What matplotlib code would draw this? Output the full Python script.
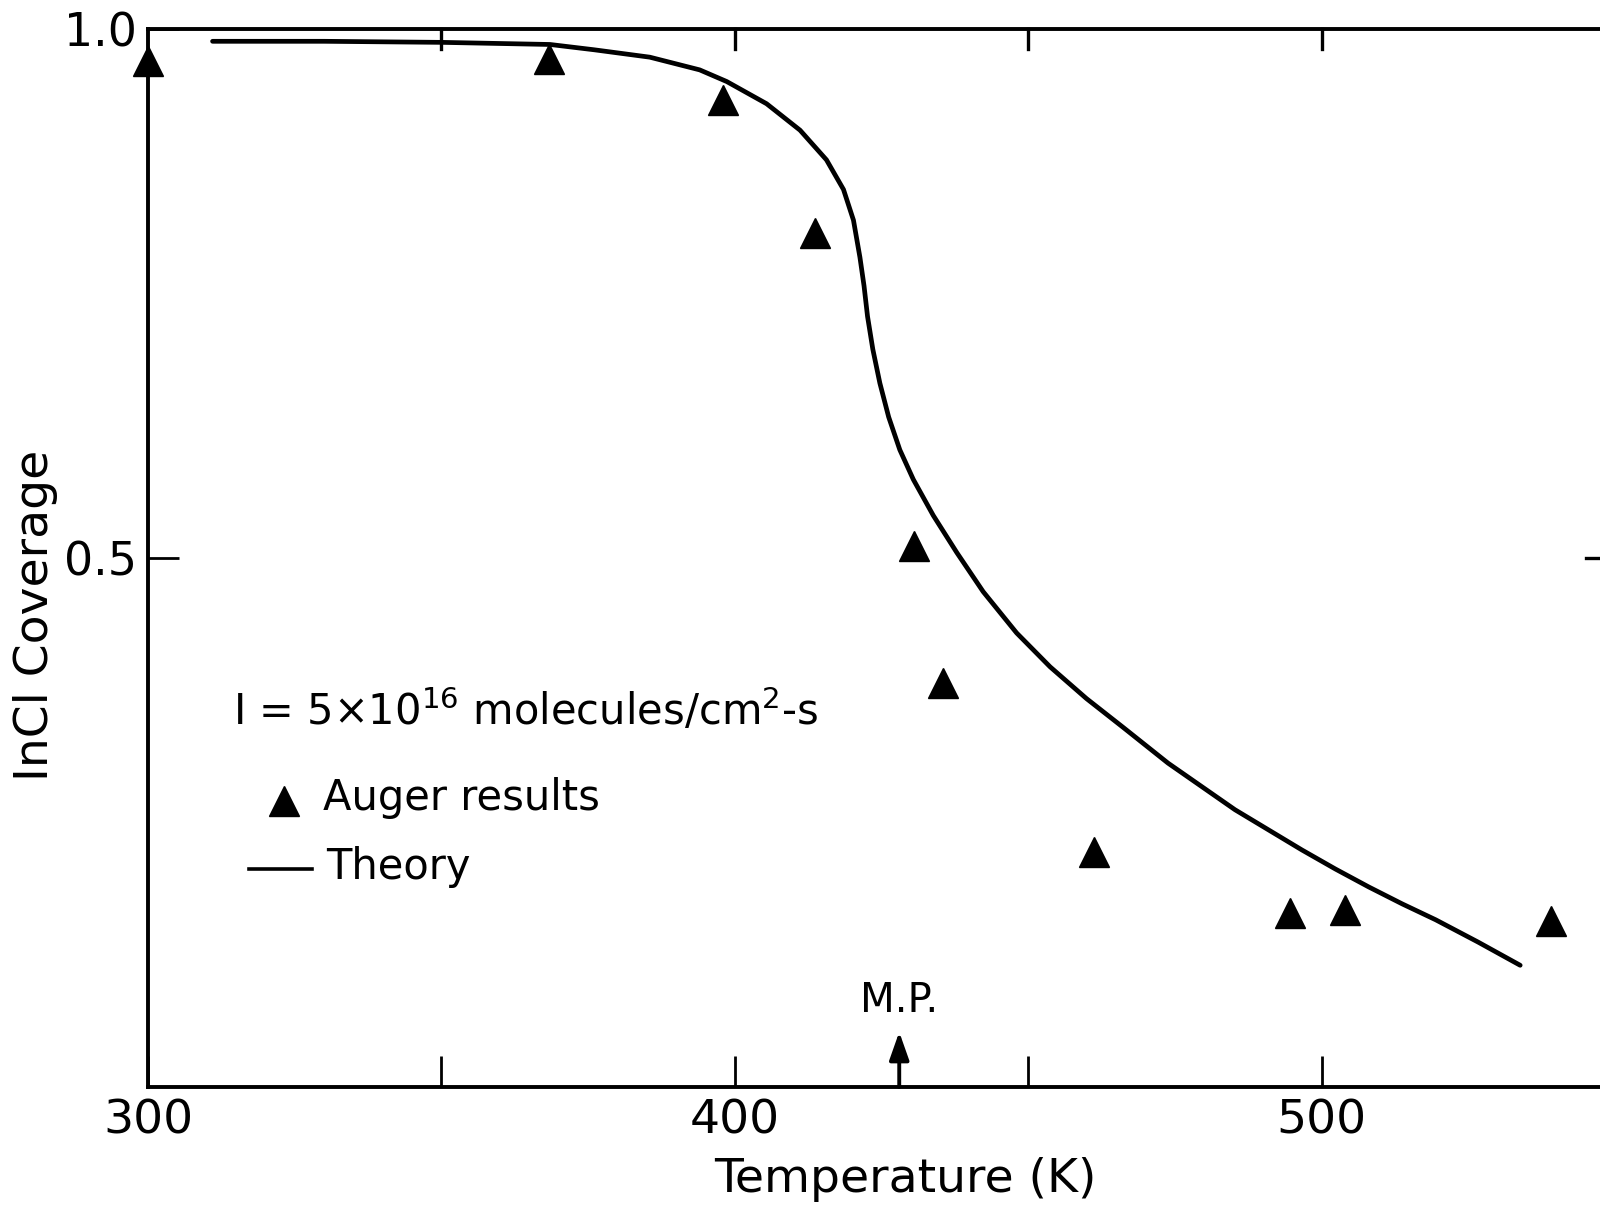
import matplotlib
matplotlib.use("Agg")
import matplotlib.pyplot as plt
from matplotlib.lines import Line2D

# ---- data ----
auger_T = [300.0, 368.3, 398.0, 413.6, 430.5, 435.5, 461.2, 494.6, 504.0, 539.1]
auger_cov = [0.969, 0.971, 0.933, 0.807, 0.511, 0.382, 0.222, 0.164, 0.167, 0.157]

theory_T = [311, 330, 350, 368.5, 376, 385.5, 394.0, 398.6, 405.4, 411.1, 415.6,
            418.5, 420.2, 421.3, 422.0, 422.6, 423.5, 424.7, 426.2, 428.1, 430.4,
            433.8, 437.8, 442.3, 448.0, 453.7, 459.9, 466.1, 473.8, 479.5, 485.2,
            490.9, 496.6, 502.3, 508.0, 513.7, 519.4, 526.6, 533.8]
theory_cov = [0.988, 0.988, 0.987, 0.985, 0.980, 0.973, 0.961, 0.950, 0.929, 0.904,
              0.876, 0.848, 0.819, 0.784, 0.757, 0.728, 0.697, 0.665, 0.633, 0.602,
              0.574, 0.540, 0.505, 0.468, 0.429, 0.397, 0.367, 0.340, 0.306, 0.284,
              0.262, 0.243, 0.224, 0.206, 0.189, 0.173, 0.158, 0.137, 0.115]

x_major = [300, 400, 500]
x_major_labels = ["300", "400", "500"]
x_minor = [350, 450]
top_ticks = [350, 400, 450, 500]
y_ticks = [0.5, 1.0]
y_tick_labels = ["0.5", "1.0"]
mp_T = 428.0

W, H = 1600, 1207
fig = plt.figure(figsize=(W / 100, H / 100), dpi=100)
plt.rcParams['font.family'] = ['DejaVu Sans']

def fx(px):
    return px / W

def fy(py):
    return 1 - py / H

left, right, top, bottom = 148, 1600, 28.6, 1087
ax = fig.add_axes([fx(left), fy(bottom), fx(right - left), fy(top) - fy(bottom)])
ax.set_xlim(300, 547.4)
ax.set_ylim(0, 1.0)

for s in ["left", "bottom", "top"]:
    ax.spines[s].set_linewidth(2.8)
ax.spines["right"].set_visible(False)

ax.plot(theory_T, theory_cov, color="black", lw=3.4, solid_capstyle="round",
        solid_joinstyle="round", zorder=3)
ax.plot(auger_T, auger_cov, linestyle="none", marker="^", markersize=21,
        color="black", clip_on=False, zorder=4)

# ticks
ax.set_xticks(x_major)
ax.set_xticklabels(x_major_labels)
ax.set_xticks(x_minor, minor=True)
ax.tick_params(axis="x", which="both", direction="in", length=22, width=2.0,
               labelsize=34, pad=8, top=False)
ax.set_yticks(y_ticks)
ax.set_yticklabels(y_tick_labels)
ax.tick_params(axis="y", which="both", direction="in", length=22, width=2.0,
               labelsize=33, pad=8, right=False)

# top ticks (inward)
for t in top_ticks:
    ax.plot([t, t], [1.0, 0.981], color="black", lw=2.4, clip_on=False, zorder=5)
# right tick at 0.5
ax.plot([545.0, 547.4], [0.5, 0.5], color="black", lw=2.4, clip_on=False, zorder=5)

# M.P. arrow
ax.annotate("", xy=(mp_T, 0.052), xytext=(mp_T, 0.0),
            arrowprops=dict(arrowstyle="-|>,head_length=0.85,head_width=0.3",
                            mutation_scale=20, color="black", lw=2.8,
                            shrinkA=0, shrinkB=0))
ax.text(mp_T, 0.062, "M.P.", fontsize=29, ha="center", va="bottom")

# axis labels
fig.text(fx(905), fy(1180), "Temperature (K)", fontsize=34, ha="center", va="center")
fig.text(fx(36), fy(615), "InCl Coverage", fontsize=34, ha="center", va="center",
         rotation=90)

# legend-like annotations
fig.text(fx(233), fy(711), r"I = 5$\times$10$^{16}$ molecules/cm$^{2}$-s",
         fontsize=30, ha="left", va="center")
fig.add_artist(Line2D([fx(284)], [fy(801)], marker="^", markersize=21,
                      color="black", linestyle="none"))
fig.text(fx(323), fy(798), "Auger results", fontsize=30, ha="left", va="center")
fig.add_artist(Line2D([fx(249), fx(312)], [fy(869), fy(869)], color="black", lw=2.6))
fig.text(fx(326), fy(867), "Theory", fontsize=30, ha="left", va="center")

fig.savefig("out.png", dpi=100, facecolor="white")
